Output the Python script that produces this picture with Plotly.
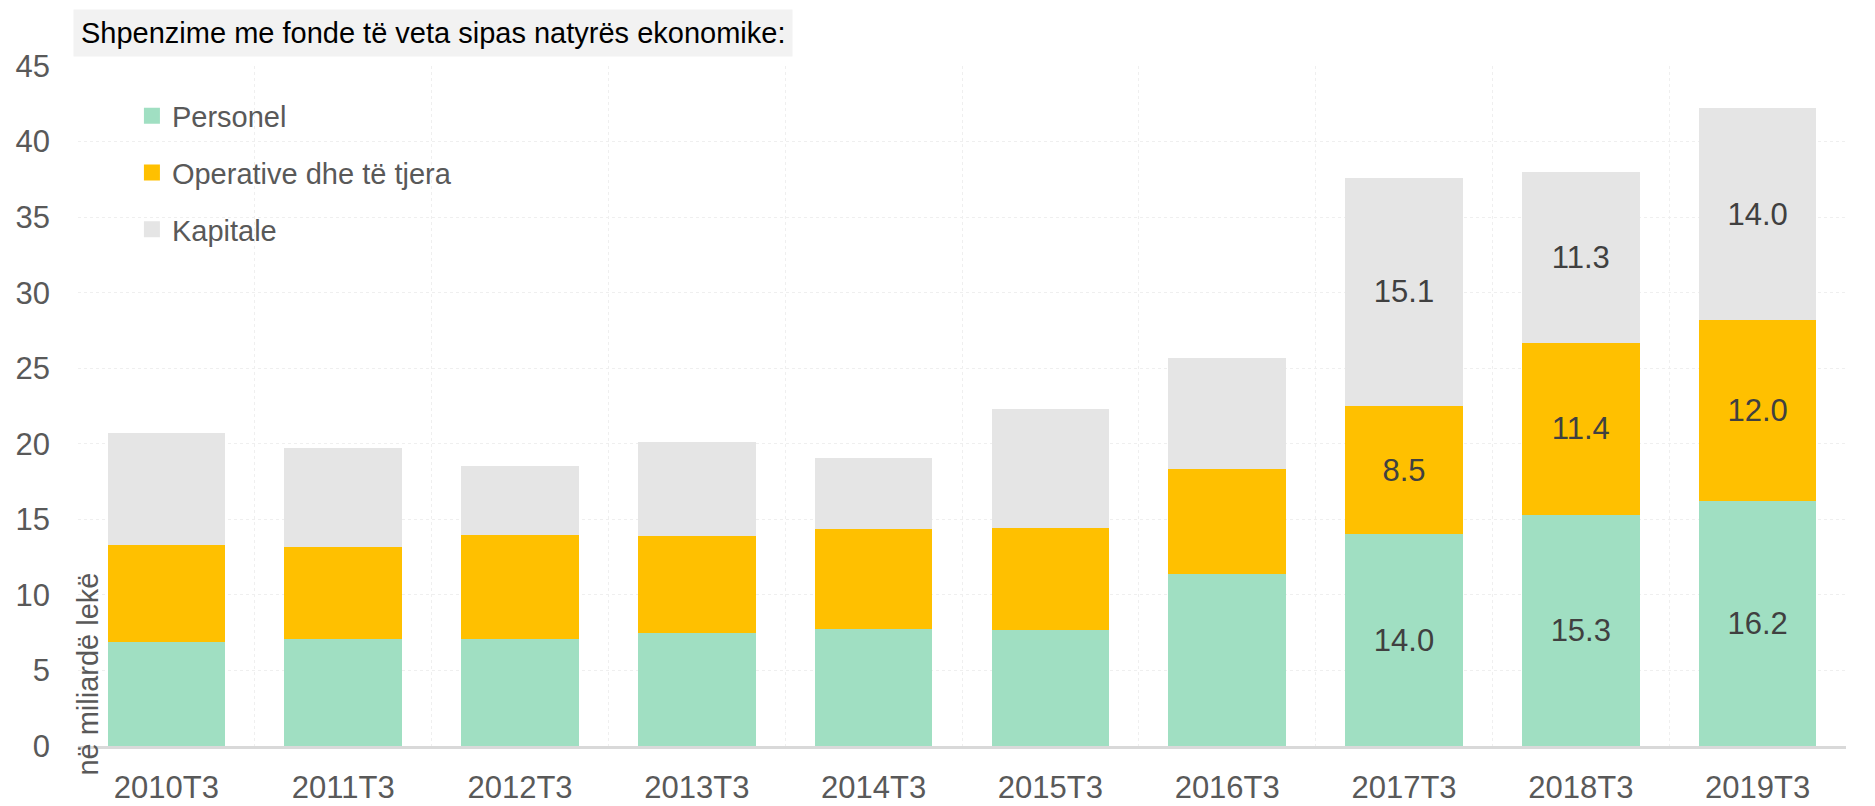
import plotly.graph_objects as go

categories = ["2010T3", "2011T3", "2012T3", "2013T3", "2014T3",
              "2015T3", "2016T3", "2017T3", "2018T3", "2019T3"]
personel = [6.9, 7.1, 7.1, 7.5, 7.75, 7.65, 11.35, 14.0, 15.3, 16.2]
operative = [6.4, 6.1, 6.85, 6.4, 6.6, 6.75, 7.0, 8.5, 11.4, 12.0]
kapitale = [7.4, 6.5, 4.6, 6.2, 4.7, 7.9, 7.35, 15.1, 11.3, 14.0]
labelled = ["2017T3", "2018T3", "2019T3"]  # only these bars carry value labels

FONT = "Liberation Sans Narrow, Arial Narrow, Liberation Sans, Arial, sans-serif"
GREY = "#595959"

series = [
    ("Personel", personel, "#a0dfc2"),
    ("Operative dhe të tjera", operative, "#ffc000"),
    ("Kapitale", kapitale, "#e5e5e5"),
]

fig = go.Figure()
for name, vals, color in series:
    txt = ["%.1f" % v if c in labelled else "" for c, v in zip(categories, vals)]
    fig.add_trace(go.Bar(
        x=categories, y=vals, name=name, marker=dict(color=color, line=dict(width=0)),
        text=txt, textposition="inside", insidetextanchor="middle",
        textfont=dict(family=FONT, size=31, color="#404040"),
        constraintext="none", showlegend=False, hoverinfo="x+y+name",
    ))
# legend entries with bigger square swatches
for name, vals, color in series:
    fig.add_trace(go.Scatter(
        x=[None], y=[None], mode="markers", name=name, legendgroup=name,
        marker=dict(symbol="square", size=16, color=color),
    ))

# page body has an 8px margin, so the figure is 8px smaller than the window
fig.update_layout(
    barmode="stack", bargap=0.335,
    width=1867, height=798,
    margin=dict(l=70, r=29, t=58, b=60),
    paper_bgcolor="white", plot_bgcolor="white",
    font=dict(family=FONT, size=31, color=GREY),
    legend=dict(x=0.0305, y=0.964, xanchor="left", yanchor="top",
                traceorder="grouped", tracegroupgap=16,
                font=dict(family=FONT, size=29, color=GREY),
                bgcolor="rgba(0,0,0,0)"),
    xaxis=dict(type="category", tickson="boundaries", ticks="", automargin=False,
               showgrid=True, gridcolor="#efefef", griddash="dot", gridwidth=1,
               showline=True, linecolor="#d9d9d9", linewidth=3,
               tickfont=dict(family=FONT, size=31, color=GREY),
               ticklabelstandoff=12),
    yaxis=dict(range=[0, 45], dtick=5, showgrid=True, gridcolor="#efefef", automargin=False,
               griddash="dot", gridwidth=1, zeroline=False, showline=False, ticks="",
               tickfont=dict(family=FONT, size=31, color=GREY),
               ticklabelstandoff=27),
    annotations=[
        dict(text="Shpenzime me fonde të veta sipas natyrës ekonomike:",
             xref="paper", yref="paper", x=0, y=1, xanchor="left", yanchor="bottom",
             xshift=-5, yshift=9, showarrow=False, bgcolor="#f2f2f2", borderpad=7,
             font=dict(family=FONT, size=29, color="#000000")),
        dict(text="në miliardë lekë", textangle=-90,
             xref="paper", yref="paper", x=0.0068, y=0.105, xanchor="center", yanchor="middle",
             xshift=-2,
             showarrow=False, font=dict(family=FONT, size=29, color=GREY)),
    ],
)

fig.write_html("out.html")
